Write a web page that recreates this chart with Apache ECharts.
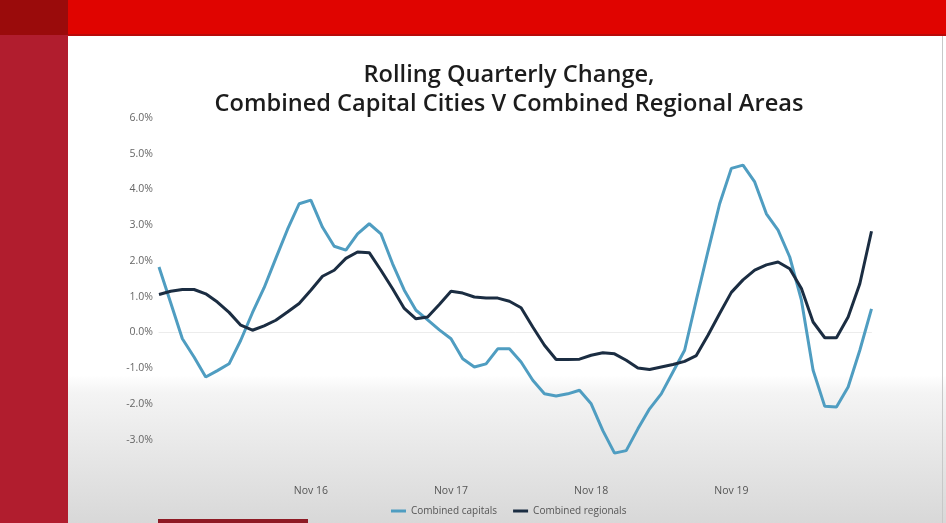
<!DOCTYPE html>
<html>
<head>
<meta charset="utf-8">
<script src="https://cdn.jsdelivr.net/npm/echarts@6/dist/echarts.min.js"></script>
<style>
html,body{margin:0;padding:0;background:#fff;}
#chart{width:946px;height:523px;}
</style>
</head>
<body>
<div id="chart"></div>
<script>
var months = ['Oct 15','Nov 15','Dec 15','Jan 16','Feb 16','Mar 16','Apr 16','May 16','Jun 16','Jul 16','Aug 16','Sep 16','Oct 16','Nov 16','Dec 16',
'Jan 17','Feb 17','Mar 17','Apr 17','May 17','Jun 17','Jul 17','Aug 17','Sep 17','Oct 17','Nov 17','Dec 17',
'Jan 18','Feb 18','Mar 18','Apr 18','May 18','Jun 18','Jul 18','Aug 18','Sep 18','Oct 18','Nov 18','Dec 18',
'Jan 19','Feb 19','Mar 19','Apr 19','May 19','Jun 19','Jul 19','Aug 19','Sep 19','Oct 19','Nov 19','Dec 19',
'Jan 20','Feb 20','Mar 20','Apr 20','May 20','Jun 20','Jul 20','Aug 20','Sep 20','Oct 20','Nov 20'];

var combinedCapitals = [1.83,0.83,-0.18,-0.69,-1.25,-1.07,-0.88,-0.22,0.55,1.25,2.07,2.88,3.6,3.7,2.94,2.41,2.30,2.76,3.04,2.76,1.92,1.18,0.62,0.35,0.07,-0.18,-0.74,-0.97,-0.88,-0.46,-0.46,-0.83,-1.34,-1.72,-1.78,-1.72,-1.62,-2.0,-2.75,-3.38,-3.31,-2.70,-2.14,-1.72,-1.11,-0.50,0.90,2.27,3.6,4.59,4.68,4.21,3.32,2.86,2.11,0.9,-1.06,-2.07,-2.09,-1.53,-0.50,0.66];

var combinedRegionals = [1.06,1.15,1.20,1.20,1.08,0.85,0.56,0.20,0.06,0.18,0.34,0.57,0.81,1.18,1.57,1.74,2.07,2.25,2.23,1.74,1.22,0.67,0.38,0.43,0.78,1.15,1.10,0.99,0.96,0.96,0.87,0.69,0.15,-0.36,-0.76,-0.76,-0.75,-0.64,-0.57,-0.60,-0.78,-1.0,-1.04,-0.97,-0.90,-0.81,-0.65,-0.08,0.53,1.12,1.47,1.74,1.89,1.97,1.78,1.23,0.29,-0.15,-0.15,0.43,1.36,2.83];

var xTickLabels = ['Nov 16','Nov 17','Nov 18','Nov 19'];
var seriesNames = ['Combined capitals','Combined regionals'];
var titleText = 'Rolling Quarterly Change,\nCombined Capital Cities V Combined Regional Areas';

var chart = echarts.init(document.getElementById('chart'), null, {renderer:'canvas'});
var FONT = '"Open Sans", "Noto Sans", sans-serif';

chart.setOption({
  backgroundColor: '#ffffff',
  animation: false,
  graphic: [
    {type:'rect', z:-10, shape:{x:68,y:375,width:878,height:148},
     style:{fill:new echarts.graphic.LinearGradient(0,0,0,1,[{offset:0,color:'#ffffff'},{offset:0.12,color:'#f4f4f4'},{offset:1,color:'#d8d8d8'}])}},
    {type:'rect', z:-5, shape:{x:68,y:0,width:878,height:35}, style:{fill:'#e00400'}},
    {type:'rect', z:-5, shape:{x:68,y:34,width:878,height:2}, style:{fill:'#b80a0a'}},
    {type:'rect', z:-5, shape:{x:0,y:0,width:68,height:523}, style:{fill:'#b11d2e'}},
    {type:'rect', z:-4, shape:{x:0,y:0,width:68,height:35}, style:{fill:'#9a0b0b'}},
    {type:'rect', z:-4, shape:{x:158,y:519,width:150,height:4}, style:{fill:'#8e1a24'}},
    {type:'rect', z:-4, shape:{x:942,y:36,width:1,height:487}, style:{fill:'#c8c8c8'}}
  ],
  title: {
    text: titleText,
    left: 504,
    top: 56,
    textAlign: 'center',
    textStyle: {fontFamily: FONT, fontSize: 23.6, fontWeight: 600, color: '#1c1c1c', lineHeight: 29}
  },
  legend: {
    data: seriesNames,
    bottom: 2,
    left: 386,
    itemWidth: 15,
    itemHeight: 3,
    itemGap: 16,
    icon: 'rect',
    textStyle: {fontFamily: FONT, fontSize: 10, color: '#555'}
  },
  grid: {left: 159, right: 74.5, top: 118, bottom: 47.7, containLabel: false},
  xAxis: {
    type: 'category',
    data: months,
    boundaryGap: false,
    axisLine: {show: true, onZero: true, lineStyle: {color: '#ececec', width: 1}},
    axisTick: {show: false},
    splitLine: {show: false},
    axisLabel: {
      interval: function (idx, val) { return xTickLabels.indexOf(val) >= 0; },
      fontFamily: FONT, fontSize: 10.5, color: '#555', margin: 10
    }
  },
  yAxis: {
    type: 'value',
    min: -4, max: 6, interval: 1,
    axisLine: {show: false},
    axisTick: {show: false},
    splitLine: {show: false},
    axisLabel: {
      showMinLabel: false,
      formatter: function (v) { return v.toFixed(1) + '%'; },
      fontFamily: FONT, fontSize: 10.5, color: '#666', margin: 6
    }
  },
  series: [
    {name: seriesNames[0], type: 'line', data: combinedCapitals, symbol: 'none',
     lineStyle: {color: '#4f9dc1', width: 3}, itemStyle: {color: '#4f9dc1'}, z: 3},
    {name: seriesNames[1], type: 'line', data: combinedRegionals, symbol: 'none',
     lineStyle: {color: '#1b2d42', width: 3}, itemStyle: {color: '#1b2d42'}, z: 4}
  ]
});
</script>
</body>
</html>
